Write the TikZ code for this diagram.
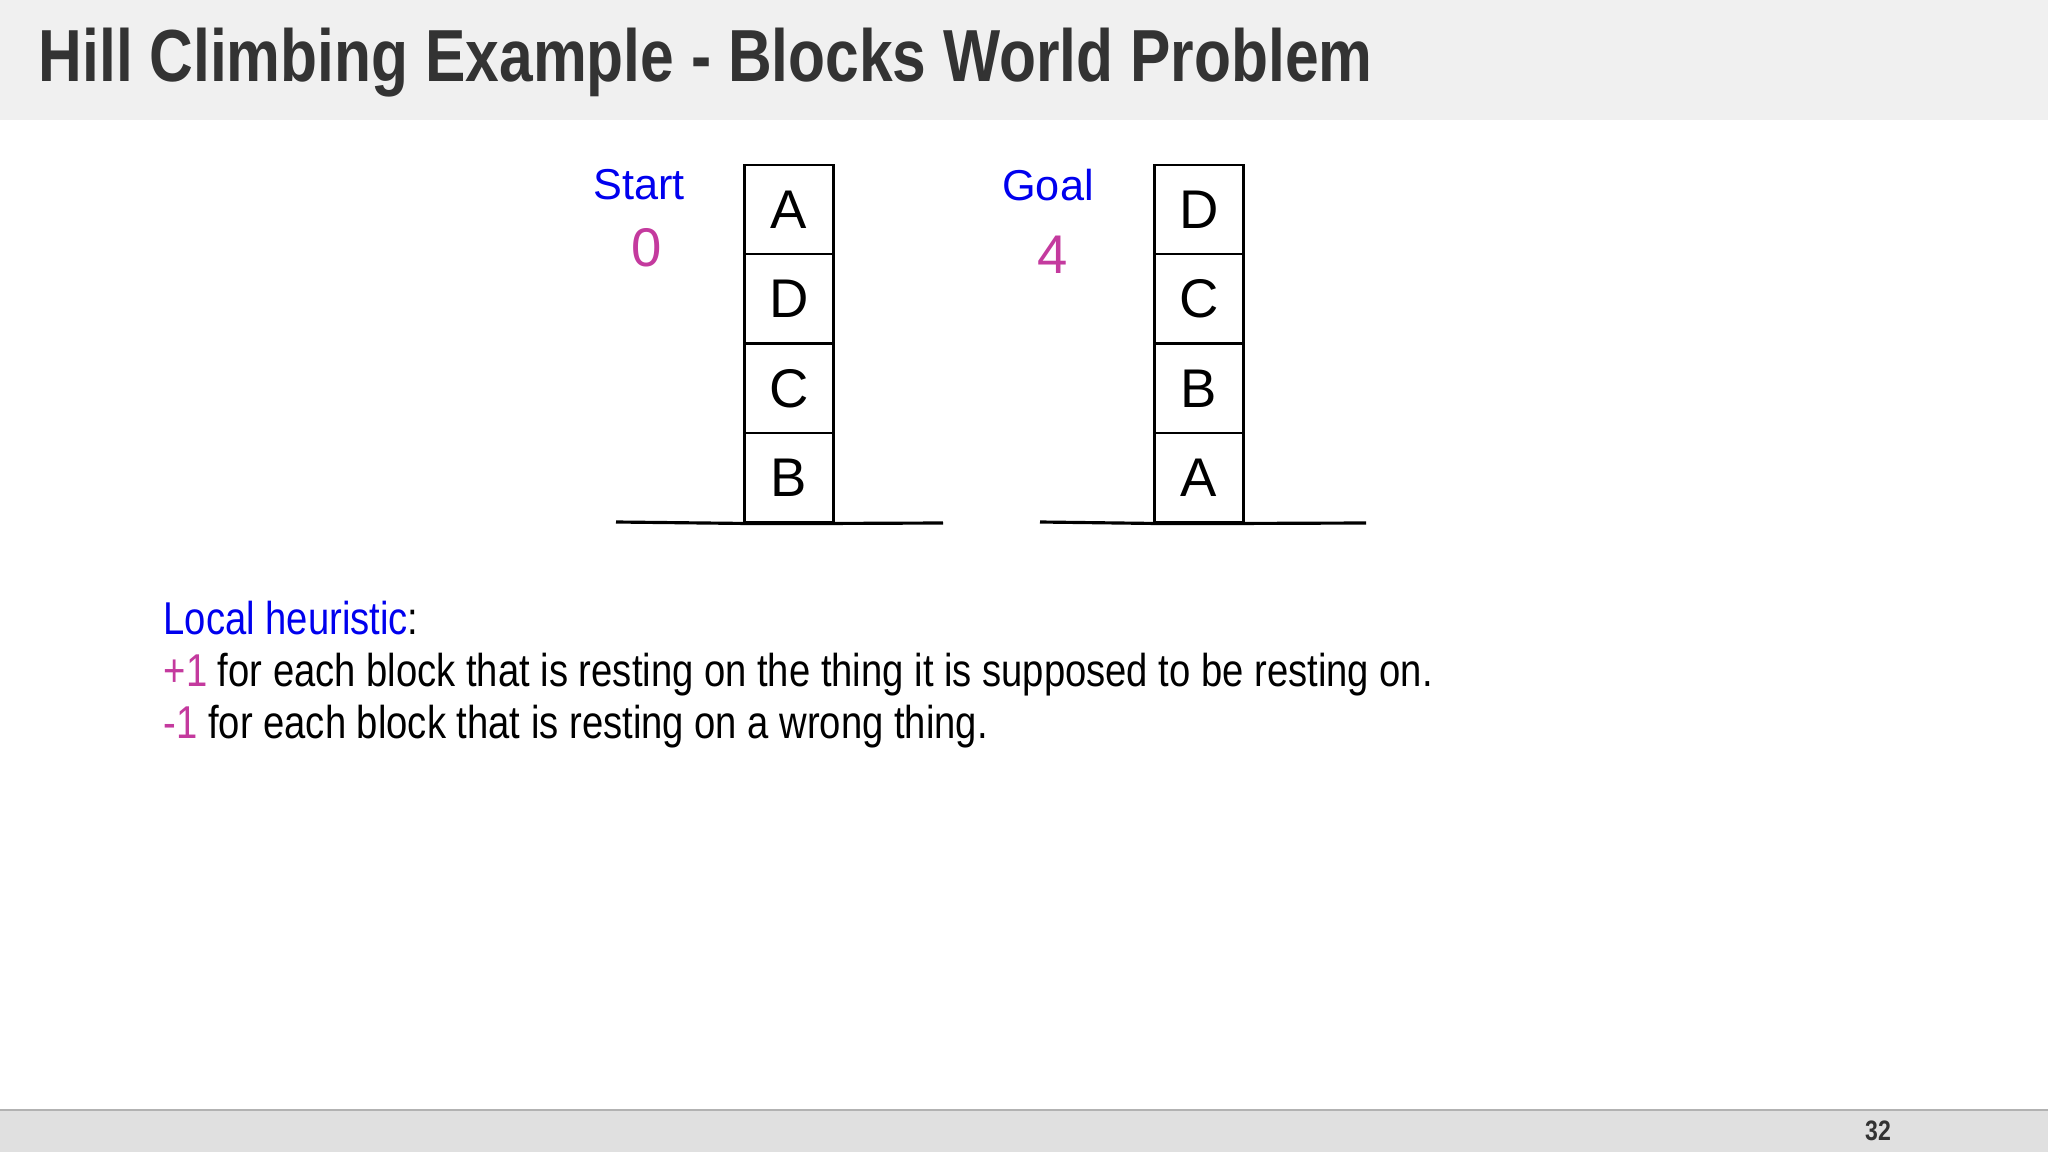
\documentclass[tikz,border=0pt]{standalone}
\usepackage{fontspec}
\setmainfont{Liberation Sans}
\newfontfamily\narrowfont[FakeStretch=0.83]{Liberation Sans}
\newfontfamily\titlefont[FakeStretch=0.82]{Liberation Sans}
\definecolor{titlegray}{RGB}{51,51,51}
\definecolor{bandgray}{RGB}{240,240,240}
\definecolor{footgray}{RGB}{224,224,224}
\definecolor{plum}{RGB}{196,58,158}
\definecolor{pureblue}{RGB}{0,0,238}
\begin{document}
\begin{tikzpicture}
\tikzstyle{bloc}=[draw, line width=0.6pt, minimum size=0.89cm, inner sep=0pt, font=\fontsize{15.5}{16}\selectfont];
\tikzstyle{sol}=[line width=0.9pt];
\tikzstyle{etiquette}=[text=pureblue, font=\fontsize{12.3}{13}\selectfont];
\tikzstyle{score}=[text=plum, font=\fontsize{15.5}{16}\selectfont];
\tikzstyle{ligne}=[anchor=base west, inner sep=0pt, font=\narrowfont\fontsize{13.1}{14}\selectfont];
\useasboundingbox (0,0) rectangle (20.48,-11.52);
\fill[bandgray] (0,0) rectangle (20.48,-1.2);
\fill[footgray] (0,-11.1) rectangle (20.48,-11.52);
\draw[gray!60, line width=0.5pt] (0,-11.1) -- (20.48,-11.1);
\node[anchor=base west, inner sep=0pt, text=titlegray, font=\titlefont\bfseries\fontsize{21}{22}\selectfont] (titre) at (0.38,-0.82) {Hill Climbing Example - Blocks World Problem};
\node[text=titlegray, font=\titlefont\bfseries\fontsize{8}{9}\selectfont] (page) at (18.78,-11.31) {32};

% depart
\node[etiquette] (start) at (6.39,-1.85) {Start};
\node[score] (s0) at (6.47,-2.48) {0};
\node[bloc] (sA) at (7.89,-2.093) {A};
\node[bloc] (sD) at (7.89,-2.988) {D};
\node[bloc] (sC) at (7.89,-3.884) {C};
\node[bloc] (sB) at (7.89,-4.779) {B};
\coordinate (sg) at (6.16,-5.22);
\coordinate (sd) at (9.43,-5.23);
\draw[sol] (sg) -- (sB.south west) -- (sB.south east) -- (sd);

% but
\node[etiquette] (goal) at (10.48,-1.85) {Goal};
\node[score] (g4) at (10.53,-2.55) {4};
\node[bloc] (gD) at (11.99,-2.093) {D};
\node[bloc] (gC) at (11.99,-2.988) {C};
\node[bloc] (gB) at (11.99,-3.884) {B};
\node[bloc] (gA) at (11.99,-4.779) {A};
\coordinate (gg) at (10.40,-5.22);
\coordinate (gd) at (13.66,-5.23);
\draw[sol] (gg) -- (gA.south west) -- (gA.south east) -- (gd);

% texte
\node[ligne] (h0) at (1.63,-6.35) {\textcolor{pureblue}{Local heuristic}:};
\node[ligne] (h1) at (1.63,-6.87) {\textcolor{plum}{+1} for each block that is resting on the thing it is supposed to be resting on.};
\node[ligne] (h2) at (1.63,-7.38) {\textcolor{plum}{-1} for each block that is resting on a wrong thing.};
\end{tikzpicture}
\end{document}
